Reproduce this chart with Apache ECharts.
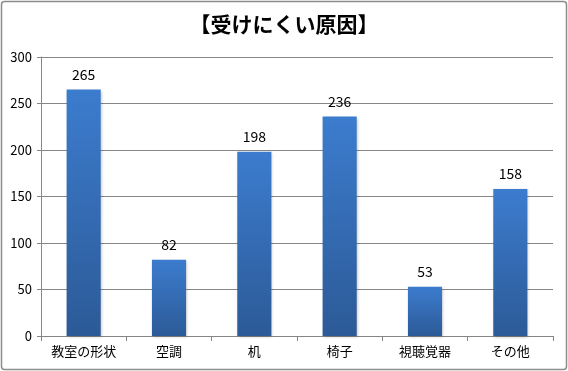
<!DOCTYPE html>
<html><head><meta charset="utf-8">
<script src="https://cdn.jsdelivr.net/npm/echarts@6/dist/echarts.min.js"></script>
<style>html,body{margin:0;padding:0;background:#fff}#c{width:568px;height:371px}</style>
</head><body><div id="c"></div>
<script>
const categories = ['教室の形状','空調','机','椅子','視聴覚器','その他'];
const values = [265, 82, 198, 236, 53, 158];
const yTicks = [0, 50, 100, 150, 200, 250, 300];
const titleText = '【受けにくい原因】';

const chart = echarts.init(document.getElementById('c'), null, {renderer:'canvas'});
const font = '"Noto Sans CJK JP", "Noto Sans", sans-serif';
chart.setOption({
  animation:false,
  backgroundColor:'#fff',
  title:{text:titleText,left:'center',top:9,textStyle:{fontFamily:font,fontSize:21,fontWeight:'bold',color:'#000'}},
  graphic:[{type:'rect',shape:{x:1.5,y:1.5,width:565,height:368,r:3},style:{fill:'none',stroke:'#8c8c8c',lineWidth:1.5},silent:true}],
  grid:{left:41,right:15,top:57,bottom:35,containLabel:false},
  xAxis:{type:'category',data:categories,
    axisLine:{lineStyle:{color:'#868686',width:1}},
    axisTick:{show:true,length:5,alignWithLabel:false,lineStyle:{color:'#868686'}},
    axisLabel:{color:'#000',fontFamily:font,fontSize:13,margin:9}},
  yAxis:{type:'value',min:yTicks[0],max:yTicks[yTicks.length-1],interval:50,
    axisLine:{show:true,lineStyle:{color:'#868686'}},
    axisTick:{show:true,length:4,lineStyle:{color:'#868686'}},
    splitLine:{lineStyle:{color:'#868686',width:1}},
    axisLabel:{color:'#000',fontFamily:font,fontSize:13,margin:9}},
  series:[{type:'bar',data:values,barCategoryGap:'60%',
    itemStyle:{color:new echarts.graphic.LinearGradient(0,0,0,1,[{offset:0,color:'#3c7cce'},{offset:1,color:'#2c5a97'}]),
      shadowColor:'rgba(0,0,0,0.25)',shadowBlur:3,shadowOffsetX:1,shadowOffsetY:1},
    label:{show:true,position:'top',distance:8,color:'#000',fontFamily:font,fontSize:14}}]
});
</script></body></html>
